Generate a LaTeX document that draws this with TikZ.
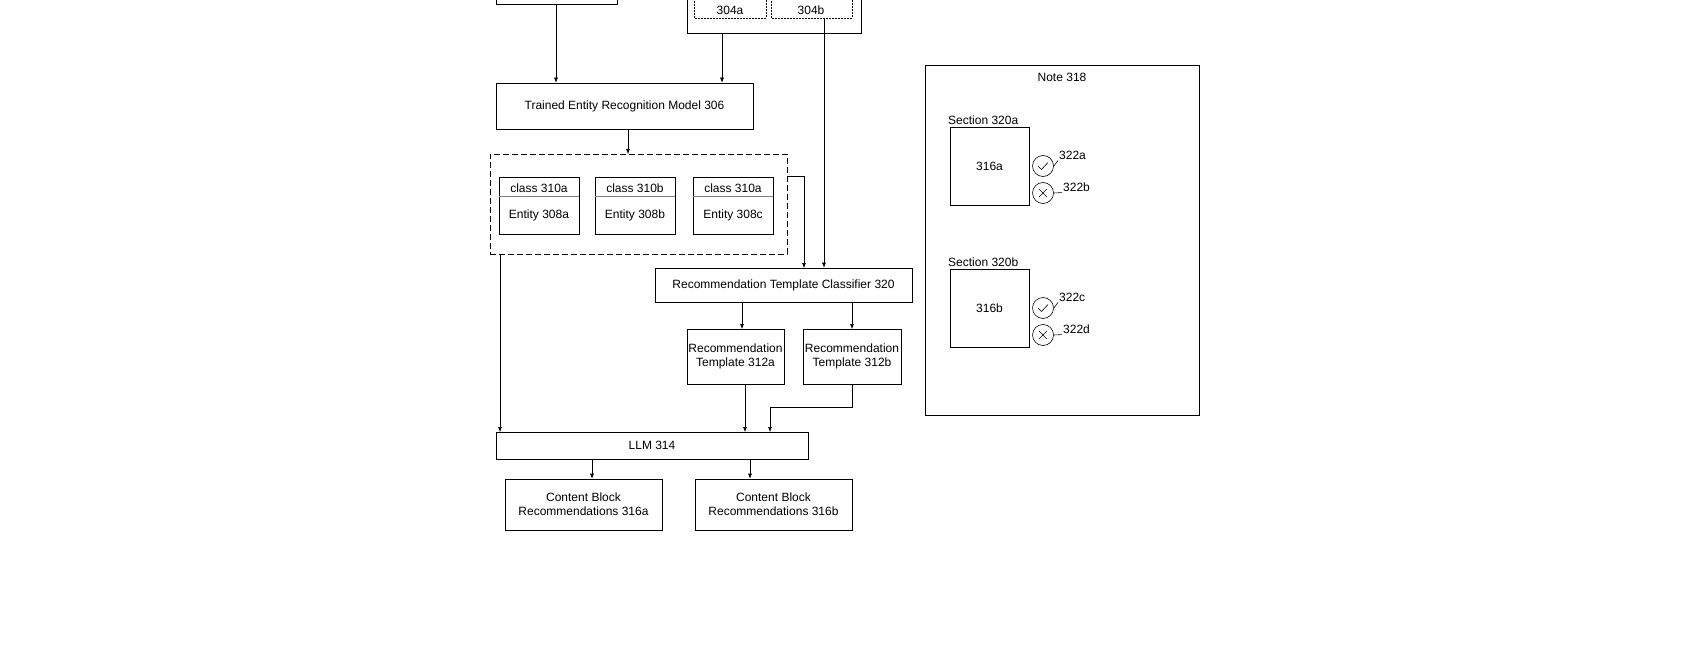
\documentclass[tikz,border=0pt]{standalone}
\usepackage{fontspec}
\setmainfont{Liberation Sans}
\usetikzlibrary{arrows.meta}
\begin{document}
\begin{tikzpicture}[x=1pt,y=-1pt,
  every node/.style={font=\fontsize{12}{14}\selectfont},
  box/.style={draw,line width=0.6pt,inner sep=0pt,align=center},
  arr/.style={-{Latex[length=5pt,width=4pt]},line width=0.6pt},
  ln/.style={line width=0.6pt},
  lbl/.style={inner sep=1pt,anchor=west}]
\useasboundingbox (0,0) rectangle (1700,650);
% top partial boxes
\draw[ln] (496,-2) -- (496,4) -- (617,4) -- (617,-2);
\coordinate (top1) at (556,4);
\draw[ln] (687,-2) -- (687,33) -- (861,33) -- (861,-2);
\coordinate (grp) at (722,33);
\draw[ln,dashed,dash pattern=on 2pt off 1pt] (694,-2) -- (694,18) -- (766,18) -- (766,-2);
\draw[ln,dashed,dash pattern=on 2pt off 1pt] (771,-2) -- (771,18) -- (852,18) -- (852,-2);
\node (a304) at (730,10) {304a};
\node (b304) at (811,10) {304b};
\coordinate (b304s) at (824,18);
% 306
\node[box,minimum width=257,minimum height=46] (m306) at (624.5,106) {Trained Entity Recognition Model 306};
% dashed group
\node[draw,dashed,dash pattern=on 6pt off 3pt,line width=0.6pt,minimum width=297,minimum height=100,inner sep=0pt] (grp310) at (638.5,204) {};
\foreach \n/\x/\c/\e in {a/539/class 310a/Entity 308a, b/635/class 310b/Entity 308b, c/733/class 310a/Entity 308c}{
  \node[box,minimum width=80,minimum height=57] (e\n) at (\x,205.5) {};
  \draw[ln,gray] (\x-40,196) -- (\x+40,196);
  \node at (\x,188) {\c};
  \node at (\x,215) {\e};
}
% classifier
\node[box,minimum width=257,minimum height=34] (c320) at (783.5,285) {Recommendation Template Classifier 320};
\node[box,minimum width=97,minimum height=55] (t312a) at (735.5,356.5) {Recommendation\\Template 312a};
\node[box,minimum width=98,minimum height=55] (t312b) at (852,356.5) {Recommendation\\Template 312b};
\node[box,minimum width=312,minimum height=27] (llm) at (652,445.5) {LLM 314};
\node[box,minimum width=157,minimum height=51] (cba) at (583.5,504.5) {Content Block\\Recommendations 316a};
\node[box,minimum width=157,minimum height=51] (cbb) at (773.5,504.5) {Content Block\\Recommendations 316b};
% connectors
\draw[arr] (top1) -- (top1 |- m306.north);
\draw[arr] (grp) -- (grp |- m306.north);
\draw[arr] (b304s) -- (b304s |- c320.north);
\draw[arr] (m306.south -| 628,0) -- (628,154);
\draw[arr] (grp310.east |- 0,176) -- (804,176) -- (804,268);
\draw[arr] (500,254) -- (500,432);
\draw[arr] (742,302) -- (742,329);
\draw[arr] (852,302) -- (852,329);
\draw[arr] (745,384) -- (745,432);
\draw[arr] (852,384) -- (852,407) -- (770,407) -- (770,432);
\draw[arr] (592,459) -- (cba.north -| 592,0);
\draw[arr] (750,459) -- (cbb.north -| 750,0);
% note
\node[box,minimum width=274,minimum height=350] (note) at (1062,240) {};
\node (notel) at (1062,77) {Note 318};
\foreach \s/\y/\t/\p/\q in {a/127/316a/a/b, b/269/316b/c/d}{
  \node[anchor=south west,inner sep=1pt] (sec\s) at (947,\y-1) {Section 320\s};
  \node[box,minimum width=79,minimum height=78] (b\s) at (989.5,\y+39) {\t};
  \node[draw,circle,line width=0.6pt,minimum size=21pt,inner sep=0pt] (ok\s) at (1043,\y+39) {};
  \draw[ln] ([shift={(-5,0)}]ok\s.center) -- ([shift={(-1.5,3.5)}]ok\s.center) -- ([shift={(5,-3.5)}]ok\s.center);
  \node[draw,circle,line width=0.6pt,minimum size=21pt,inner sep=0pt] (no\s) at (1043,\y+66) {};
  \draw[ln] ([shift={(-4,-4)}]no\s.center) -- ([shift={(4,4)}]no\s.center);
  \draw[ln] ([shift={(-4,4)}]no\s.center) -- ([shift={(4,-4)}]no\s.center);
  \node[lbl] (l1\s) at (1058,\y+28) {322\p};
  \node[lbl] (l2\s) at (1062,\y+60) {322\q};
  \draw[ln] (ok\s.east) -- (l1\s.south west);
  \draw[ln] (no\s.east) -- (l2\s.south west);
}
\end{tikzpicture}
\end{document}
